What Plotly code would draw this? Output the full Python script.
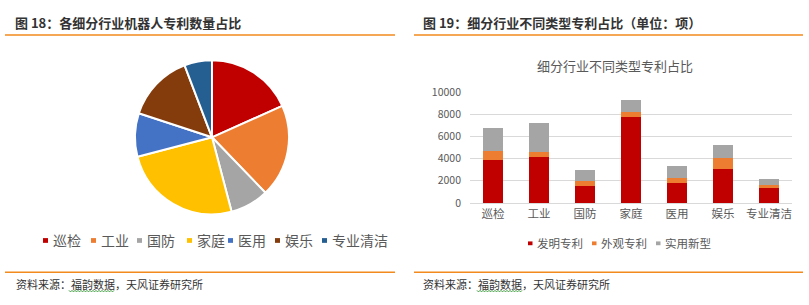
import plotly.graph_objects as go

W, H = 809, 305

# ---------------- data ----------------
pie_labels = ["巡检", "工业", "国防", "家庭", "医用", "娱乐", "专业清洁"]
pie_values = [6770, 7200, 3000, 9260, 3370, 5230, 2140]
pie_colors = ["#C00000", "#ED7D31", "#A5A5A5", "#FFC000", "#4472C4", "#843C0C", "#255E91"]

categories = ["巡检", "工业", "国防", "家庭", "医用", "娱乐", "专业清洁"]
invention = [3860, 4110, 1540, 7710, 1800, 3090, 1370]   # 发明专利
design = [830, 520, 430, 520, 460, 940, 260]             # 外观专利
utility = [2080, 2570, 1030, 1030, 1110, 1200, 510]      # 实用新型
series_names = ["发明专利", "外观专利", "实用新型"]
series_colors = ["#C00000", "#ED7D31", "#A5A5A5"]
y_ticks = [0, 2000, 4000, 6000, 8000, 10000]
y_tick_labels = ["0", "2000", "4000", "6000", "8000", "10000"]

FONT = "Noto Sans CJK SC, Microsoft YaHei, sans-serif"
GRAY = "#595959"


def px(x):
    return x / W


def py(y):
    return 1 - y / H


fig = go.Figure()

# ---------------- pie ----------------
cx, cy, r = 212, 136, 81
fig.add_trace(go.Pie(
    labels=pie_labels, values=pie_values,
    marker=dict(colors=pie_colors, line=dict(color="white", width=2)),
    sort=False, direction="clockwise", rotation=0,
    textinfo="none", hoverinfo="label+value+percent",
    showlegend=False,
    domain=dict(x=[px(cx - r), px(cx + r)], y=[py(cy + r), py(cy - r)]),
))

# ---------------- stacked bars ----------------
for name, vals, col in zip(series_names, [invention, design, utility], series_colors):
    fig.add_trace(go.Bar(
        x=categories, y=vals, name=name, marker=dict(color=col, line=dict(width=0)),
        showlegend=False, xaxis="x", yaxis="y",
    ))

fig.update_layout(
    width=W, height=H,
    margin=dict(l=0, r=0, t=0, b=0),
    paper_bgcolor="white", plot_bgcolor="white",
    barmode="stack", bargap=0.58,
    font=dict(family=FONT, color=GRAY),
    xaxis=dict(
        domain=[px(470), px(792)],
        anchor="y",
        showgrid=False, showline=True, linecolor="#D9D9D9", linewidth=1,
        ticks="", tickfont=dict(size=11.5, color=GRAY, family=FONT),
        categoryorder="array", categoryarray=categories,
    ),
    yaxis=dict(
        domain=[py(205), py(88.3)],
        range=[0, 10000], tickvals=y_ticks, ticktext=y_tick_labels,
        showgrid=True, gridcolor="#D9D9D9", gridwidth=1,
        zeroline=False, showline=False, ticks="",
        tickfont=dict(size=10.5, color=GRAY, family=FONT),
        ticklabelstandoff=8,
    ),
)

shapes = []
annotations = []

# header titles and orange rules
annotations.append(dict(text="<b>图 18：各细分行业机器人专利数量占比</b>", x=px(13), y=py(15),
                        xref="paper", yref="paper", xanchor="left", yanchor="middle",
                        showarrow=False, font=dict(size=13, color="#333333", family=FONT)))
annotations.append(dict(text="<b>图 19：细分行业不同类型专利占比（单位：项）</b>", x=px(421), y=py(15),
                        xref="paper", yref="paper", xanchor="left", yanchor="middle",
                        showarrow=False, font=dict(size=13, color="#333333", family=FONT)))
for x0, x1 in [(5, 395), (414, 803)]:
    shapes.append(dict(type="line", xref="paper", yref="paper", x0=px(x0), x1=px(x1),
                       y0=py(28.3), y1=py(28.3), line=dict(color="#F28A1E", width=1.5)))
    shapes.append(dict(type="line", xref="paper", yref="paper", x0=px(x0), x1=px(x1),
                       y0=py(278), y1=py(278), line=dict(color="#F28A1E", width=1.5)))

# chart title of bar chart
annotations.append(dict(text="细分行业不同类型专利占比", x=px(615), y=py(60),
                        xref="paper", yref="paper", xanchor="center", yanchor="middle",
                        showarrow=False, font=dict(size=13, color=GRAY, family=FONT)))

# footers
for fx, ux0, ux1 in [(14, 69, 115), (421, 477, 522)]:
    annotations.append(dict(text="资料来源：福韵数据，天风证券研究所", x=px(fx), y=py(290),
                            xref="paper", yref="paper", xanchor="left", yanchor="middle",
                            showarrow=False, font=dict(size=11, color="#333333", family=FONT)))
    # wavy spell-check underline
    pts = []
    x = ux0
    k = 0
    while x <= ux1:
        yy = 297 if k % 2 == 0 else 298.6
        pts.append(f"{px(x):.5f},{py(yy):.5f}")
        x += 1.5
        k += 1
    shapes.append(dict(type="path", xref="paper", yref="paper", path="M" + " L".join(pts),
                       line=dict(color="#3A9A3A", width=1)))

# pie legend (squares + labels)
pie_leg_sq = [43, 91, 137, 187, 228, 275, 322]
for lab, col, sx in zip(pie_labels, pie_colors, pie_leg_sq):
    shapes.append(dict(type="rect", xref="paper", yref="paper", x0=px(sx), x1=px(sx + 5),
                       y0=py(247), y1=py(242), fillcolor=col, line=dict(width=0)))
    annotations.append(dict(text=lab, x=px(sx + 8), y=py(244.5), xref="paper", yref="paper",
                            xanchor="left", yanchor="middle", showarrow=False,
                            font=dict(size=14, color=GRAY, family=FONT)))

# bar legend
bar_leg_sq = [528, 592, 656]
for lab, col, sx in zip(series_names, series_colors, bar_leg_sq):
    shapes.append(dict(type="rect", xref="paper", yref="paper", x0=px(sx), x1=px(sx + 4.5),
                       y0=py(249.5), y1=py(245.5), fillcolor=col, line=dict(width=0)))
    annotations.append(dict(text=lab, x=px(sx + 7), y=py(247.5), xref="paper", yref="paper",
                            xanchor="left", yanchor="middle", showarrow=False,
                            font=dict(size=11.5, color=GRAY, family=FONT)))

fig.update_layout(shapes=shapes, annotations=annotations)
fig.write_html("out.html")
